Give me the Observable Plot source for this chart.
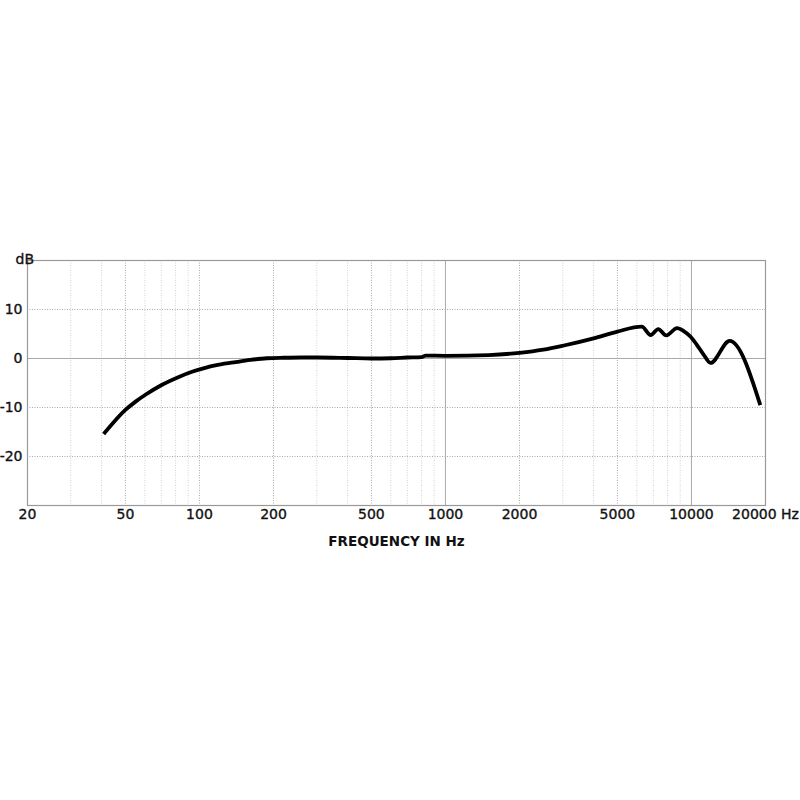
<!DOCTYPE html>
<html><head><meta charset="utf-8">
<script src="https://cdn.jsdelivr.net/npm/d3@7"></script>
<script src="https://cdn.jsdelivr.net/npm/@observablehq/plot@0.6"></script>
<style>
body{margin:0;background:#fff;}
</style>
</head><body><div id="chart"></div>
<script>
const freq  = [40.8, 45, 50, 55, 60.3, 70.2, 82.9, 93.3, 105.5, 116, 138, 161, 188, 220, 260, 300, 400, 500, 600, 700, 800, 830, 1000, 1500, 2000, 2500, 3000, 4000, 5000, 6280, 6830, 7330, 7900, 8740, 9300, 9900, 10520, 11220, 11950, 14300, 19050];
const level = [-15.4, -12.9, -10.5, -8.8, -7.4, -5.4, -3.7, -2.7, -1.9, -1.4, -0.8, -0.3, 0.05, 0.15, 0.2, 0.2, 0.1, 0.0, 0.05, 0.2, 0.3, 0.6, 0.55, 0.7, 1.15, 1.8, 2.6, 4.1, 5.5, 6.5, 4.8, 6.0, 4.7, 6.2, 5.6, 4.5, 2.8, 0.75, -0.9, 3.6, -9.5];
const xTicks = [20, 50, 100, 200, 500, 1000, 2000, 5000, 10000, 20000];
const xTickLabels = ["20", "50", "100", "200", "500", "1000", "2000", "5000", "10000", "20000 Hz"];
const yTicks = [-20, -10, 0, 10];
const yTickLabels = ["-20", "-10", "0", "10"];
const gridMinor = [30, 40, 60, 70, 80, 90, 300, 400, 600, 700, 800, 900, 3000, 4000, 6000, 7000, 8000, 9000];
const gridMedium = [50, 100, 200, 500, 2000, 5000];
const gridMajor = [1000, 10000];
const gridY = [-20, -10, 10];
const xTitle = "FREQUENCY IN Hz";
const yTitle = "dB";

const data = freq.map((f, i) => ({f, db: level[i]}));
const font = "'DejaVu Sans', sans-serif";

const chart = Plot.plot({
  width: 800, height: 800,
  marginTop: 260, marginBottom: 295, marginLeft: 27, marginRight: 35,
  style: {fontFamily: font, fontSize: "14px", color: "#111", background: "#fff"},
  x: {type: "log", domain: [20, 20000], axis: null},
  y: {domain: [-30, 20], axis: null},
  marks: [
    Plot.ruleX(gridMinor, {stroke: "#d2d2d2", strokeDasharray: "1,1.5"}),
    Plot.ruleX(gridMedium, {stroke: "#a8a8a8", strokeDasharray: "1,1.5"}),
    Plot.ruleY(gridY, {stroke: "#a8a8a8", strokeDasharray: "1,1.5"}),
    Plot.ruleX(gridMajor, {stroke: "#aaa"}),
    Plot.ruleY([0], {stroke: "#aaa"}),
    Plot.frame({stroke: "#999", strokeWidth: 1.2}),
    Plot.text(xTicks, {x: d => d, text: (d, i) => xTickLabels[i], frameAnchor: "bottom", dy: 13, fontSize: 14, fill: "#111", stroke: "#111", strokeWidth: 0.35}),
    Plot.text(yTicks, {y: d => d, text: (d, i) => yTickLabels[i], frameAnchor: "left", dx: -5, textAnchor: "end", fontSize: 14, fill: "#111", stroke: "#111", strokeWidth: 0.35}),
    Plot.line(data, {x: "f", y: "db", stroke: "#000", strokeWidth: 3.8, curve: "monotone-x", strokeLinejoin: "round", strokeLinecap: "butt"}),
    Plot.text([xTitle], {frameAnchor: "bottom", dy: 40, fontWeight: "bold", fontSize: 13.5, fill: "#111"}),
    Plot.text([yTitle], {frameAnchor: "top-left", dx: -12, dy: -6, fontSize: 14, fill: "#111", stroke: "#111", strokeWidth: 0.35})
  ]
});
document.getElementById("chart").appendChild(chart);
</script>
</body></html>
